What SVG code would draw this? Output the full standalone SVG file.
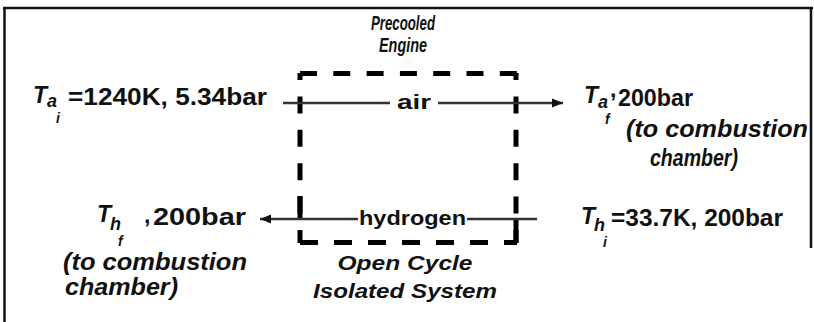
<svg xmlns="http://www.w3.org/2000/svg" width="814" height="322" viewBox="0 0 814 322">
<style>
text{font-family:"Liberation Sans",Arial,sans-serif;font-weight:bold;fill:#111}
.it{font-style:italic}
.big{font-size:23px}
.sub{font-size:18px;font-style:italic}
.sub2{font-size:14px;font-style:italic}
.lbl{font-size:20px}
.box{stroke:#000;stroke-width:5;fill:none}
.flow{stroke:#333;stroke-width:2.6;fill:none}
.frame{stroke:#111;stroke-width:2.5;fill:none}
</style>
<defs>
<marker id="ah" markerUnits="userSpaceOnUse" markerWidth="12" markerHeight="10" refX="11" refY="5" orient="auto">
<path d="M0,0.5 L11,5 L0,9.5 Z" fill="#111"/>
</marker>
</defs>
<rect width="814" height="322" fill="#fff"/>
<g id="frame">
<line class="frame" x1="3" y1="8" x2="813" y2="8"/>
<line class="frame" x1="4.5" y1="8" x2="4.5" y2="322"/>
<line class="frame" x1="811" y1="8" x2="811" y2="248"/>
</g>
<g id="engine">
<line class="box" x1="300" y1="73.5" x2="517" y2="73.5" stroke-dasharray="17 16.3"/>
<line class="box" x1="300" y1="242.5" x2="517" y2="242.5" stroke-dasharray="18 16"/>
<line class="box" x1="300" y1="73" x2="300" y2="243" stroke-dasharray="17 16.4" stroke-dashoffset="10"/>
<line class="box" x1="516" y1="73" x2="516" y2="243" stroke-dasharray="17 16.4" stroke-dashoffset="10"/>
<line class="box" x1="300" y1="196" x2="300" y2="219"/>
<line class="box" x1="516" y1="219" x2="516" y2="243"/>
<text class="it" x="403" y="30" font-size="21" text-anchor="middle" textLength="64" lengthAdjust="spacingAndGlyphs">Precooled</text>
<text class="it" x="403" y="52" font-size="21" text-anchor="middle" textLength="48" lengthAdjust="spacingAndGlyphs">Engine</text>
<text class="it" x="405" y="270" font-size="21" text-anchor="middle" textLength="135" lengthAdjust="spacingAndGlyphs">Open Cycle</text>
<text class="it" x="405" y="298" font-size="21" text-anchor="middle" textLength="184" lengthAdjust="spacingAndGlyphs">Isolated System</text>
</g>
<g id="connectors">
<line class="flow" x1="283" y1="103" x2="390" y2="103"/>
<line class="flow" x1="438" y1="103" x2="563" y2="103" marker-end="url(#ah)"/>
<text class="lbl" x="397" y="109" textLength="34" lengthAdjust="spacingAndGlyphs">air</text>
<line class="flow" x1="537" y1="219" x2="467" y2="219"/>
<line class="flow" x1="358" y1="219" x2="260" y2="219" marker-end="url(#ah)"/>
<text class="lbl" x="359" y="225" textLength="107" lengthAdjust="spacingAndGlyphs">hydrogen</text>
</g>
<g id="air_in">
<text class="big it" x="33" y="103">T</text>
<text class="sub" x="47" y="107">a</text>
<text class="sub2" x="56" y="123">i</text>
<text class="big" x="68" y="105" textLength="199" lengthAdjust="spacingAndGlyphs">=1240K, 5.34bar</text>
</g>
<g id="air_out">
<text class="big it" x="584" y="103">T</text>
<text class="sub" x="598" y="108">a</text>
<text class="sub2" x="605" y="124">f</text>
<text class="big" x="610" y="97">,</text>
<text class="big" x="618" y="106" textLength="75" lengthAdjust="spacingAndGlyphs">200bar</text>
<text class="big it" x="626" y="137" textLength="182" lengthAdjust="spacingAndGlyphs">(to combustion</text>
<text class="big it" x="650" y="166" textLength="88" lengthAdjust="spacingAndGlyphs">chamber)</text>
</g>
<g id="h2_in">
<text class="big it" x="581" y="224">T</text>
<text class="sub" x="594" y="231">h</text>
<text class="sub2" x="603" y="247">i</text>
<text class="big" x="611" y="226" textLength="172" lengthAdjust="spacingAndGlyphs">=33.7K, 200bar</text>
</g>
<g id="h2_out">
<text class="big it" x="97" y="222">T</text>
<text class="sub" x="110" y="230">h</text>
<text class="sub2" x="118" y="246">f</text>
<text class="big" x="144" y="223">,</text>
<text class="big" x="153" y="225" textLength="93" lengthAdjust="spacingAndGlyphs">200bar</text>
<text class="big it" x="63" y="270" textLength="184" lengthAdjust="spacingAndGlyphs">(to combustion</text>
<text class="big it" x="65" y="295" textLength="113" lengthAdjust="spacingAndGlyphs">chamber)</text>
</g>
</svg>
